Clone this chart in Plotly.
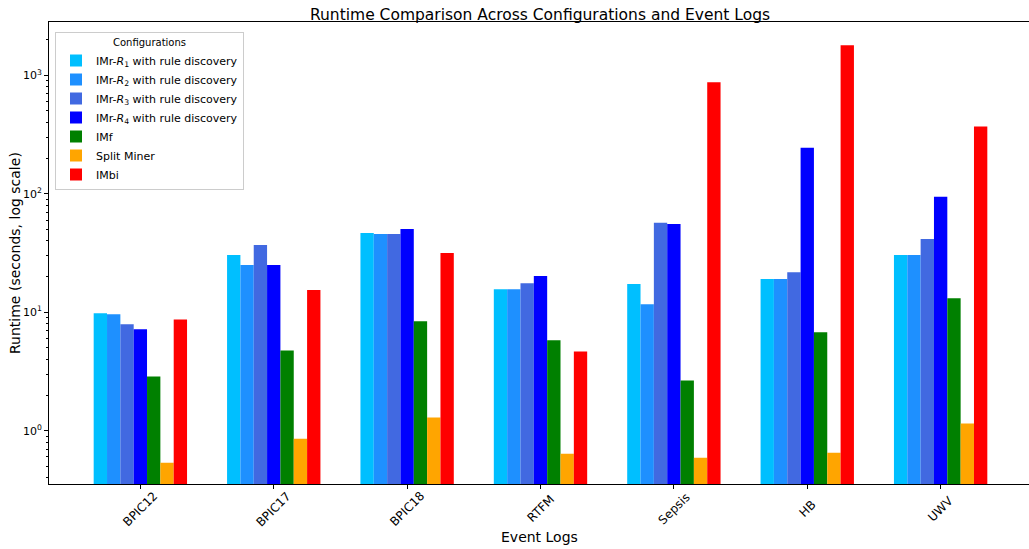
import plotly.graph_objects as go

event_logs = ["BPIC12", "BPIC17", "BPIC18", "RTFM", "Sepsis", "HB", "UWV"]

imr_r1 = [9.8, 30.4, 46.7, 15.6, 17.3, 19.1, 30.4]
imr_r2 = [9.6, 25.0, 45.7, 15.6, 11.7, 19.1, 30.4]
imr_r3 = [7.9, 37.0, 45.7, 17.6, 56.8, 21.8, 41.6]
imr_r4 = [7.2, 25.0, 50.5, 20.2, 55.6, 245.0, 94.3]
imf = [2.87, 4.76, 8.4, 5.79, 2.65, 6.77, 13.1]
split_miner = [0.535, 0.855, 1.29, 0.64, 0.59, 0.65, 1.15]
imbi = [8.7, 15.4, 31.6, 4.67, 873.0, 1797.0, 369.0]

series_names = [
    "IMr-<i>R</i><sub>1</sub> with rule discovery",
    "IMr-<i>R</i><sub>2</sub> with rule discovery",
    "IMr-<i>R</i><sub>3</sub> with rule discovery",
    "IMr-<i>R</i><sub>4</sub> with rule discovery",
    "IMf",
    "Split Miner",
    "IMbi",
]
series_values = [imr_r1, imr_r2, imr_r3, imr_r4, imf, split_miner, imbi]
series_colors = ["#00BFFF", "#1E90FF", "#4169E1", "#0000FF", "#008000", "#FFA500", "#FF0000"]

FONT = "DejaVu Sans"

fig = go.Figure()
for name, vals, col in zip(series_names, series_values, series_colors):
    fig.add_trace(go.Bar(x=event_logs, y=vals, name=name,
                         marker=dict(color=col, line=dict(width=0))))

W, H = 1029, 549
ml, mr, mt, mb = 49, 0, 22, 65
pw, ph = W - ml - mr, H - mt - mb

annotations = []
for lg in event_logs:
    annotations.append(dict(x=lg, xref="x", y=(484 - 509) / ph, yref="paper",
                            text=lg, showarrow=False, textangle=-45,
                            xanchor="center", yanchor="middle",
                            font=dict(family=FONT, size=12, color="#000")))
annotations.append(dict(x=0.5, xref="paper", y=(484 - 537) / ph, yref="paper",
                        text="Event Logs", showarrow=False, xanchor="center",
                        yanchor="middle", font=dict(family=FONT, size=14, color="#000")))
annotations.append(dict(x=(15 - ml) / pw, xref="paper", y=0.5, yref="paper",
                        text="Runtime (seconds, log scale)", showarrow=False,
                        textangle=-90, xanchor="center", yanchor="middle",
                        font=dict(family=FONT, size=14, color="#000")))

minor_vals = [m * 10 ** e for e in range(-1, 4) for m in range(2, 10)]

fig.update_layout(
    width=W, height=H,
    margin=dict(l=ml, r=mr, t=mt, b=mb),
    paper_bgcolor="white", plot_bgcolor="white",
    barmode="group", bargap=0.3, bargroupgap=0,
    title=dict(text="Runtime Comparison Across Configurations and Event Logs",
               x=(ml + 491) / W, xref="container", xanchor="center",
               y=1 - 15 / H, yref="container", yanchor="middle",
               font=dict(family=FONT, size=15.5, color="#000")),
    font=dict(family=FONT, color="#000"),
    xaxis=dict(type="category", range=[-0.685, 6.6625], showgrid=False,
               showline=True, linecolor="#000", linewidth=1, mirror=True,
               ticks="outside", ticklen=4, tickcolor="#000", showticklabels=False,
               zeroline=False),
    yaxis=dict(type="log", range=[-0.45, 3.45], showgrid=False,
               showline=True, linecolor="#000", linewidth=1, mirror=False,
               ticks="outside", ticklen=4, tickcolor="#000",
               tickvals=[1, 10, 100, 1000],
               ticktext=["10<sup>0</sup>", "10<sup>1</sup>", "10<sup>2</sup>", "10<sup>3</sup>"],
               tickfont=dict(family=FONT, size=11, color="#000"),
               minor=dict(ticks="outside", ticklen=2, tickcolor="#000",
                          tickvals=minor_vals, showgrid=False),
               zeroline=False),
    legend=dict(x=(55 - ml) / pw, y=1 - (32 - mt) / ph, xanchor="left", yanchor="top",
                bgcolor="rgba(255,255,255,0.8)", bordercolor="#cccccc", borderwidth=1,
                font=dict(family=FONT, size=11, color="#000"),
                title=dict(text="Configurations", side="top center",
                           font=dict(family=FONT, size=10, color="#000")),
                traceorder="normal", itemwidth=30),
    annotations=annotations,
)

fig.write_html("out.html")
